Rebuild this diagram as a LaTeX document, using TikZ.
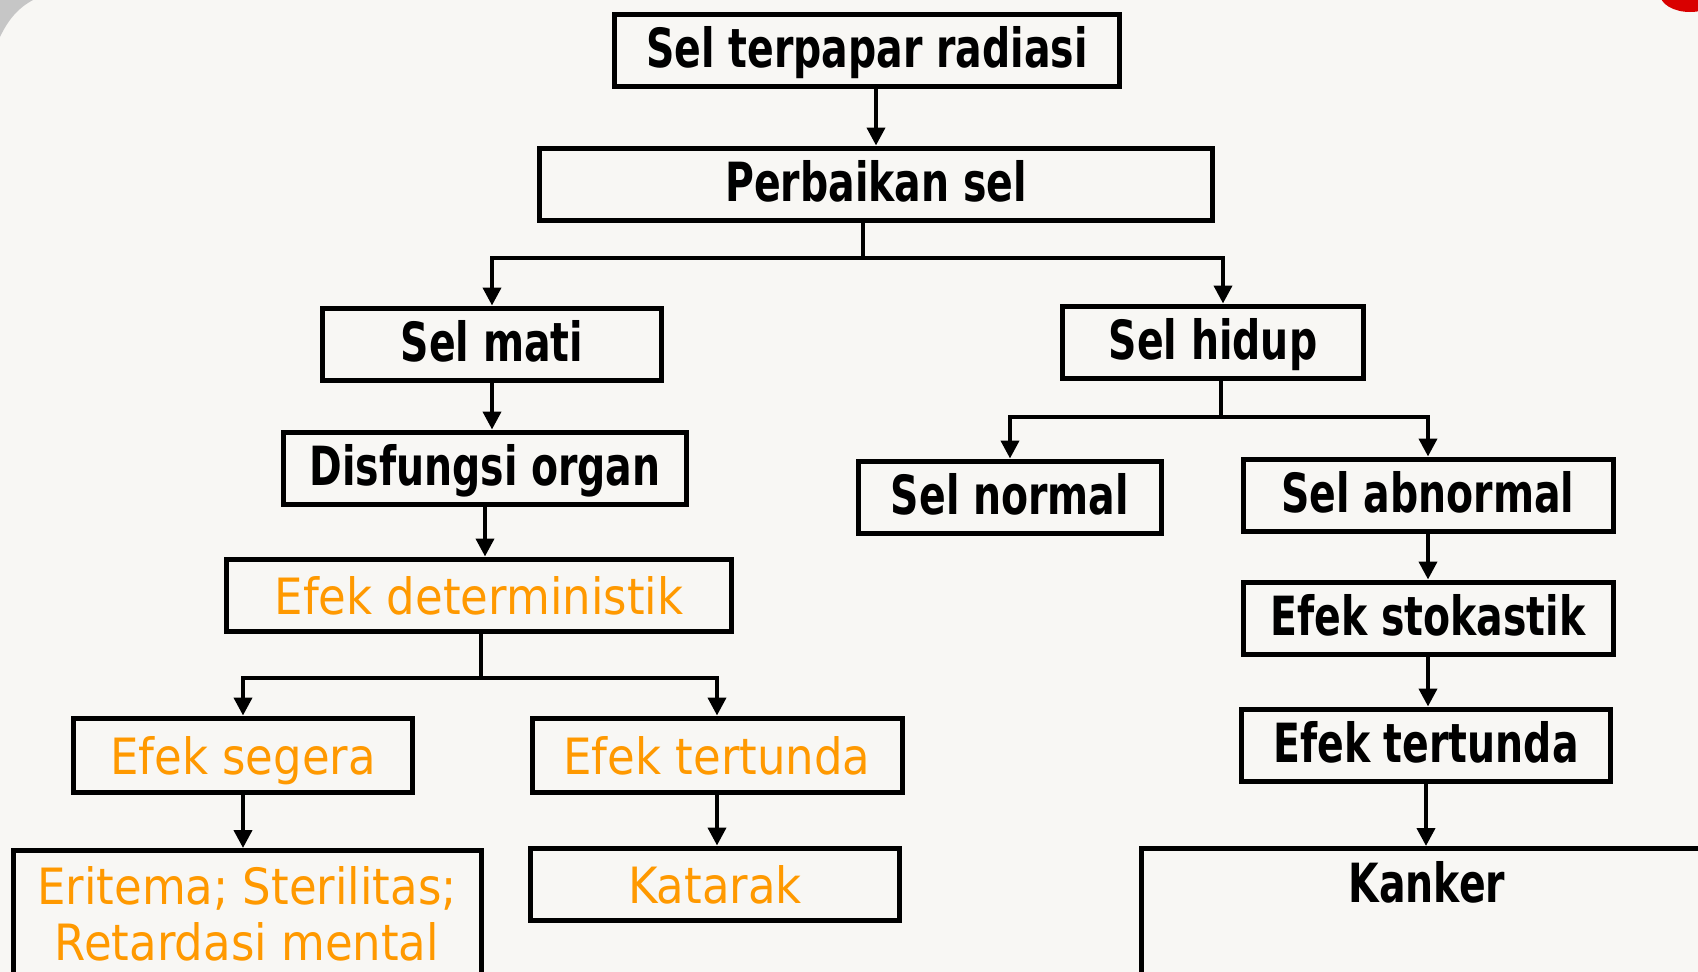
\documentclass[tikz,border=0pt]{standalone}
\usepackage{fontspec}
\setmainfont{DejaVu Sans}
\usetikzlibrary{arrows.meta}
\definecolor{oranye}{HTML}{FF9900}
\definecolor{latar}{HTML}{F8F7F4}
\newcommand{\hx}[1]{\scalebox{0.73}[1]{#1}}
\newcommand{\ox}[1]{\scalebox{0.9}[1]{#1}}
\tikzset{
  kotak/.style={draw, line width=5pt, inner sep=0pt, minimum height=72pt},
  hitam/.style={kotak, font=\fontsize{54}{60}\selectfont\bfseries, text height=40pt, text depth=6pt},
  jingga/.style={kotak, text=oranye, font=\fontsize{50}{56}\selectfont, text height=38pt, text depth=0pt},
  garis/.style={line width=4pt},
  panah/.style={line width=4pt, -{Triangle[width=18pt,length=18pt]}},
}

\begin{document}
\begin{tikzpicture}[x=1pt,y=-1pt]
\path[use as bounding box] (0,0) rectangle (1698,972);
\clip (0,0) rectangle (1698,972);
\fill[latar] (0,0) rectangle (1698,972);
\fill[gray!45] (0,0) -- (0,37) .. controls (8,20) and (18,8) .. (33,0) -- cycle;
\fill[red!85!black] (1690,-6) ellipse (30pt and 18pt);

\node[hitam, minimum width=505pt] (radiasi) at (867,50) {\hx{Sel terpapar radiasi}};
\node[hitam, minimum width=673pt] (perbaikan) at (876,184) {\hx{Perbaikan sel}};
\node[hitam, minimum width=339pt] (mati) at (492,344) {\hx{Sel mati}};
\node[hitam, minimum width=301pt] (hidup) at (1213,342) {\hx{Sel hidup}};
\node[hitam, minimum width=403pt] (disfungsi) at (485,468) {\hx{Disfungsi organ}};
\node[hitam, minimum width=303pt] (normal) at (1010,497) {\hx{Sel normal}};
\node[hitam, minimum width=370pt] (abnormal) at (1428,495) {\hx{Sel abnormal}};
\node[jingga, minimum width=505pt] (deterministik) at (479,595) {\ox{Efek deterministik}};
\node[hitam, minimum width=370pt] (stokastik) at (1428,618) {\hx{Efek stokastik}};
\node[jingga, minimum width=339pt, minimum height=74pt] (segera) at (243,755) {\ox{Efek segera}};
\node[jingga, minimum width=370pt, minimum height=74pt] (tundakiri) at (717,755) {\ox{Efek tertunda}};
\node[hitam, minimum width=369pt] (tundakanan) at (1426,745) {\hx{Efek tertunda}};
\node[kotak, text=oranye, font=\fontsize{50}{56}\selectfont, minimum width=468pt, minimum height=127pt, anchor=north, align=center] (eritema) at (247,848)
  {\ox{Eritema; Sterilitas;}\\\ox{Retardasi mental}};
\node[jingga, minimum width=369pt] (katarak) at (715,884) {\ox{Katarak}};
\node[hitam, minimum width=572pt, minimum height=0pt, anchor=north, text height=54pt, text depth=75pt] (kanker) at (1427,846) {\hx{Kanker}};

\draw[panah] (radiasi.south -| perbaikan.north) -- (perbaikan.north);
\coordinate (cabang1) at (863,258);
\draw[garis] (perbaikan.south -| cabang1) -- (cabang1);
\draw[panah] (cabang1) -| (mati.north);
\draw[panah] (cabang1) -| ([xshift=10pt]hidup.north);
\draw[panah] (mati.south) -- (mati.south |- disfungsi.north);
\draw[panah] (disfungsi.south) -- (disfungsi.south |- deterministik.north);
\coordinate (cabang2) at (481,678);
\draw[garis] (deterministik.south -| cabang2) -- (cabang2);
\draw[panah] (cabang2) -| (segera.north);
\draw[panah] (cabang2) -| (tundakiri.north);
\draw[panah] (segera.south) -- (segera.south |- eritema.north);
\draw[panah] (tundakiri.south) -- (tundakiri.south |- katarak.north);
\coordinate (cabang3) at (1221,417);
\draw[garis] (hidup.south -| cabang3) -- (cabang3);
\draw[panah] (cabang3) -| (normal.north);
\draw[panah] (cabang3) -| (abnormal.north);
\draw[panah] (abnormal.south) -- (abnormal.south |- stokastik.north);
\draw[panah] (stokastik.south) -- (stokastik.south |- tundakanan.north);
\draw[panah] (tundakanan.south) -- (tundakanan.south |- kanker.north);
\end{tikzpicture}
\end{document}
